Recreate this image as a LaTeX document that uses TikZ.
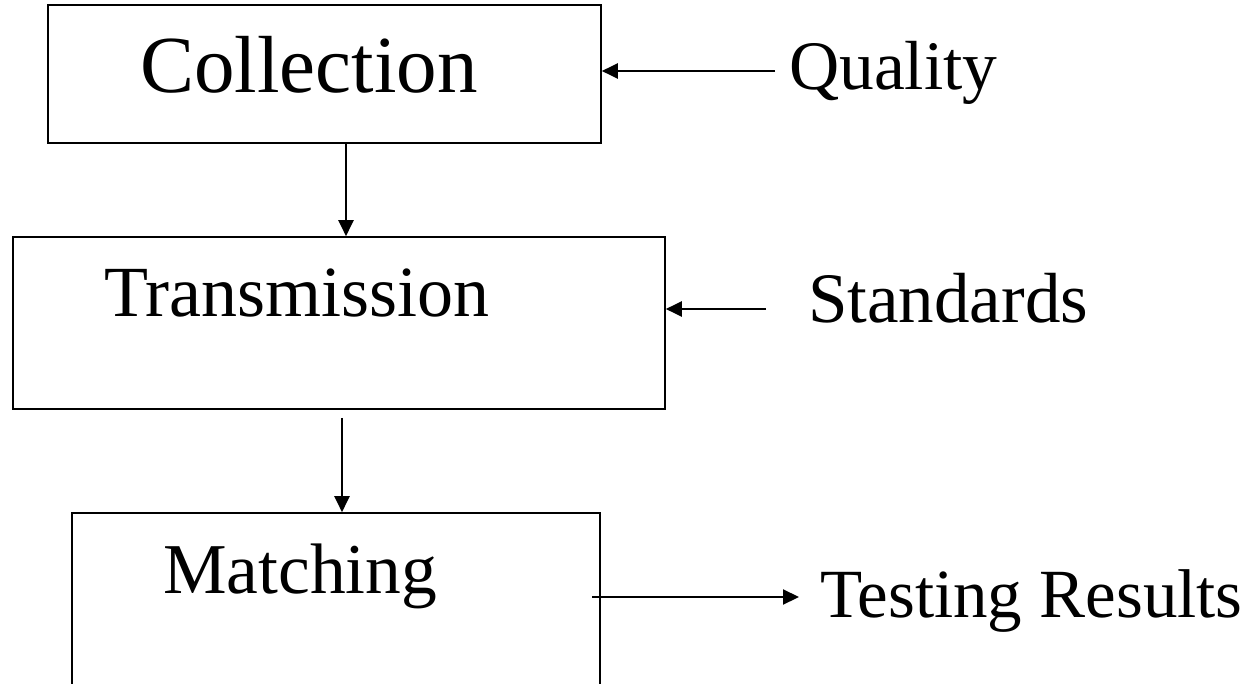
\documentclass[tikz,border=0pt]{standalone}
\usepackage{fontspec}
\setmainfont{Liberation Serif}
\usetikzlibrary{arrows.meta}
\begin{document}
\begin{tikzpicture}[x=1pt,y=-1pt,
  box/.style={draw, line width=1.6pt, rectangle, inner sep=0pt},
  lbl/.style={inner sep=0pt, anchor=base west, font=\fontsize{70}{84}\selectfont},
  arr/.style={line width=2.1pt, -{Triangle[length=16pt,width=15pt]}}]
\fill[white] (0,0) rectangle (1260,684);
\useasboundingbox (0,0) rectangle (1260,684);
\clip (0,0) rectangle (1260,684);

% process boxes (the last one runs off the bottom edge)
\node[box, minimum width=553pt, minimum height=138pt] (coll)  at (324.5,74) {};
\node[box, minimum width=652pt, minimum height=172pt] (trans) at (339,323) {};
\node[box, minimum width=528pt, minimum height=247pt] (match) at (336,636.5) {};

% box titles
\node[lbl, font=\fontsize{81}{97}\selectfont] (tcoll) at (140,93) {Collection};
\node[lbl, font=\fontsize{72}{86}\selectfont] (ttrans) at (104,317) {Transmission};
\node[lbl, font=\fontsize{71.5}{86}\selectfont] (tmatch) at (163,593) {Matching};

% side labels
\node[lbl, font=\fontsize{69.5}{83}\selectfont] (quality) at (789,90) {Quality};
\node[lbl, font=\fontsize{71}{85}\selectfont] (standards) at (808,323) {Standards};
\node[lbl, font=\fontsize{69}{83}\selectfont] (testing) at (820,617) {Testing Results};

% connector ends
\coordinate (down1) at (346,0);
\coordinate (down2) at (342,0);
\coordinate (qtail) at (775,71);
\coordinate (stail) at (766,309);
\coordinate (thead) at (799,597);
\coordinate (tstart) at (592,597);

% flow between the boxes
\draw[arr] (coll.south -| down1) -- (trans.north -| down1);
\draw[arr] ([yshift=-8pt]trans.south -| down2) -- (match.north -| down2);

% inputs and output
\draw[arr] (qtail) -- (qtail -| coll.east);
\draw[arr] (stail) -- (stail -| trans.east);
\draw[arr] (tstart) -- (thead);
\end{tikzpicture}
\end{document}
